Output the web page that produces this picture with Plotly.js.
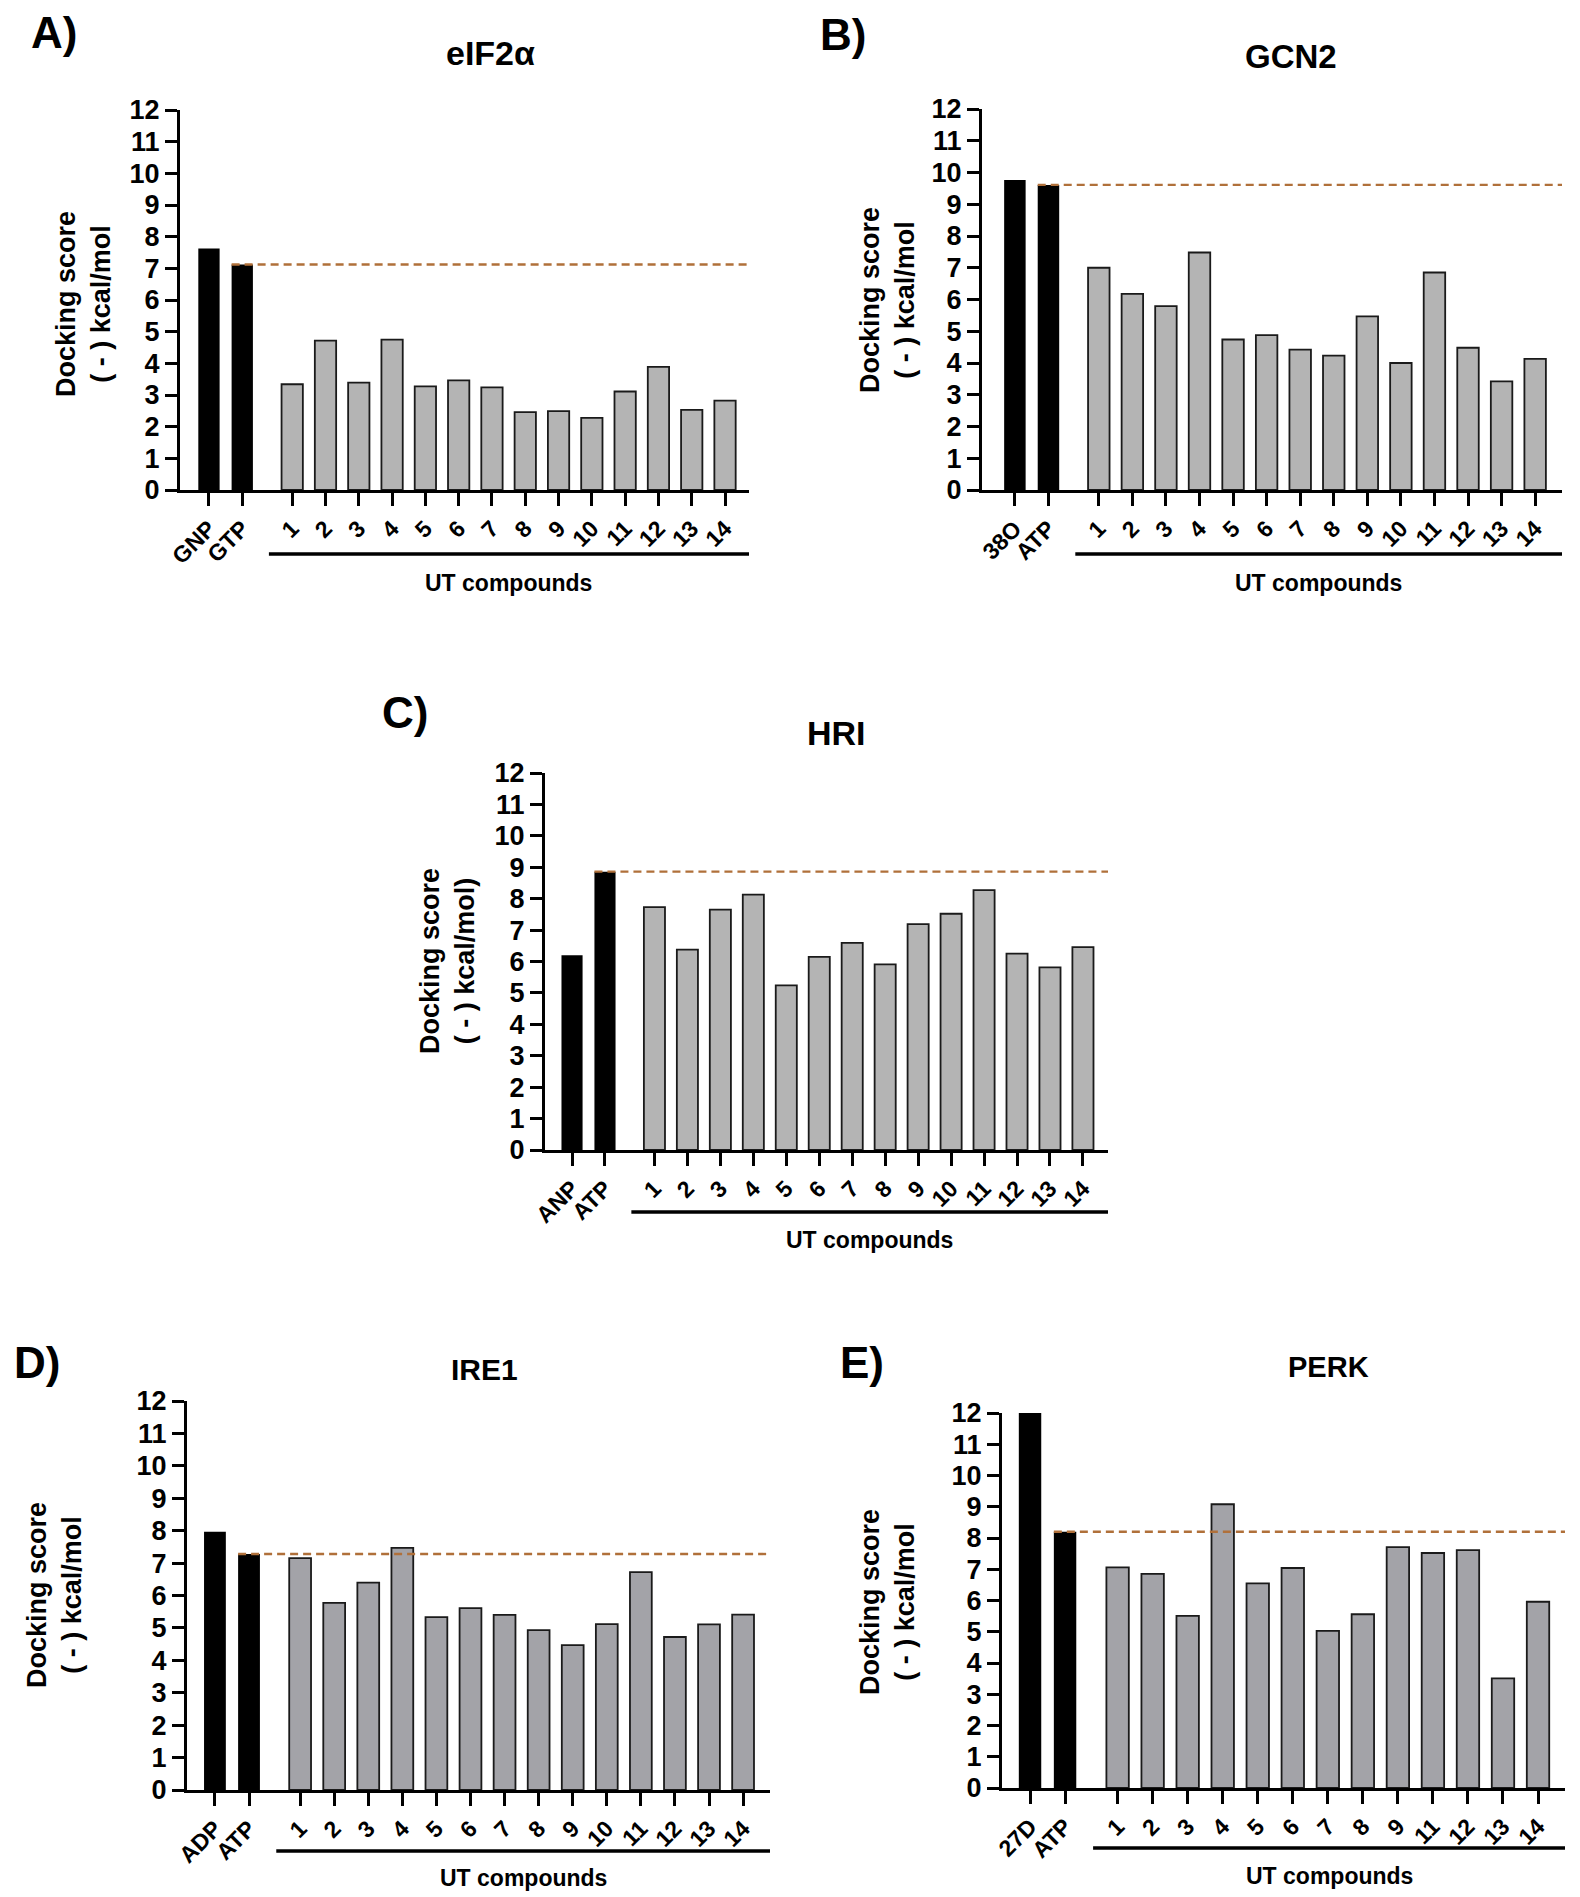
<!DOCTYPE html>
<html>
<head>
<meta charset="utf-8">
<script src="https://cdn.plot.ly/plotly-3.0.1.min.js"></script>
<style>body{margin:0;background:#fff}</style>
</head>
<body>
<div id="chart" style="width:1580px;height:1897px"></div>
<script>
// docking scores (-kcal/mol)

const utLabels = ['1','2','3','4','5','6','7','8','9','10','11','12','13','14'];
const utLabelsPerk = ['1','2','3','4','5','6','7','8','9','11','12','13','14'];

const eif2aRefLabels = ['GNP','GTP'];
const eif2aRefScores = [7.63, 7.12];
const eif2aUtScores = [3.34, 4.72, 3.39, 4.75, 3.27, 3.46, 3.24, 2.46, 2.49, 2.28, 3.11, 3.89, 2.53, 2.82];

const gcn2RefLabels = ['38O','ATP'];
const gcn2RefScores = [9.76, 9.61];
const gcn2UtScores = [7.00, 6.18, 5.79, 7.48, 4.74, 4.88, 4.42, 4.23, 5.47, 4.00, 6.85, 4.48, 3.42, 4.13];

const hriRefLabels = ['ANP','ATP'];
const hriRefScores = [6.20, 8.86];
const hriUtScores = [7.73, 6.38, 7.65, 8.13, 5.24, 6.15, 6.59, 5.91, 7.19, 7.52, 8.27, 6.25, 5.81, 6.46];

const ire1RefLabels = ['ADP','ATP'];
const ire1RefScores = [7.97, 7.28];
const ire1UtScores = [7.15, 5.77, 6.40, 7.47, 5.33, 5.61, 5.40, 4.93, 4.47, 5.12, 6.72, 4.72, 5.11, 5.41];

const perkRefLabels = ['27D','ATP'];
const perkRefScores = [12.0, 8.20];
const perkUtScores = [7.06, 6.85, 5.51, 9.08, 6.55, 7.04, 5.03, 5.56, 7.71, 7.52, 7.61, 3.51, 5.96];

const W = 1580, H = 1897;
const FONT = 'Liberation Sans, Arial, Helvetica, sans-serif';
const BAR_W = 0.64;
const GAP = 1.5;   // space between the 2nd reference bar and compound 1

// positions in px of each panel (plot box, titles, labels)
let panels = [
  {letter:'A)', title:'eIF2\u03b1', refLabels:eif2aRefLabels, ref:eif2aRefScores, utLabels:utLabels, ut:eif2aUtScores,
   box:[180,749,110,490], xr:[-0.87,16.22], gray:'#b4b4b4', letterPos:[54,33], titlePos:[490,53], titleSize:34,
   ytitlePos:[83,304], ytitle:'Docking score<br>( - ) kcal/mol', lineY:554, utY:583},
  {letter:'B)', title:'GCN2', refLabels:gcn2RefLabels, ref:gcn2RefScores, utLabels:utLabels, ut:gcn2UtScores,
   box:[982,1562,109,490], xr:[-0.98,16.30], gray:'#b4b4b4', letterPos:[843,35], titlePos:[1291,56], titleSize:33,
   ytitlePos:[887,300], ytitle:'Docking score<br>( - ) kcal/mol', lineY:554, utY:583},
  {letter:'C)', title:'HRI', refLabels:hriRefLabels, ref:hriRefScores, utLabels:utLabels, ut:hriUtScores,
   box:[545,1108,773,1150], xr:[-0.82,16.26], gray:'#b4b4b4', letterPos:[405,712], titlePos:[836,733], titleSize:34,
   ytitlePos:[447,961], ytitle:'Docking score<br>( - ) kcal/mol)', lineY:1212, utY:1240},
  {letter:'D)', title:'IRE1', refLabels:ire1RefLabels, ref:ire1RefScores, utLabels:utLabels, ut:ire1UtScores,
   box:[187,770,1401,1790], xr:[-0.82,16.29], gray:'#a3a3a8', letterPos:[37,1362], titlePos:[484,1369], titleSize:30,
   ytitlePos:[54,1595], ytitle:'Docking score<br>( - ) kcal/mol', lineY:1851, utY:1878},
  {letter:'E)', title:'PERK', refLabels:perkRefLabels, ref:perkRefScores, utLabels:utLabelsPerk, ut:perkUtScores,
   box:[1002,1565,1413,1788], xr:[-0.80,15.27], gray:'#a3a3a8', letterPos:[862,1362], titlePos:[1328,1367], titleSize:29,
   ytitlePos:[887,1602], ytitle:'Docking score<br>( - ) kcal/mol', lineY:1848, utY:1876}
];

function px(x){ return x / W; }
function py(y){ return 1 - y / H; }

let data = [];
let layout = {
  width: W, height: H,
  margin: {l:0, r:0, t:0, b:0},
  paper_bgcolor: '#fff', plot_bgcolor: 'rgba(0,0,0,0)',
  showlegend: false,
  barmode: 'overlay',
  font: {family: FONT, color: '#000'},
  annotations: [],
  shapes: []
};

function bold(size){ return {family: FONT, size: size, color: '#000', weight: 'bold'}; }

panels.forEach(function(p, i){
  let n = i + 1;
  let xa = n == 1 ? 'x' : 'x' + n;
  let ya = n == 1 ? 'y' : 'y' + n;

  let refX = p.ref.map(function(v, k){ return k; });
  let utX = p.ut.map(function(v, k){ return 1 + GAP + k; });

  data.push({
    type:'bar', x:refX, y:p.ref, width:BAR_W, xaxis:xa, yaxis:ya,
    marker:{color:'#000', line:{width:0}}, hoverinfo:'skip'
  });
  data.push({
    type:'bar', x:utX, y:p.ut, width:BAR_W, xaxis:xa, yaxis:ya,
    marker:{color:p.gray, line:{color:'#1a1a1a', width:1.8}}, hoverinfo:'skip'
  });
  // dashed reference level = score of the natural ligand (2nd bar)
  let refLevel = p.ref[1];
  data.push({
    type:'scatter', mode:'lines', xaxis:xa, yaxis:ya,
    x:[1 - BAR_W/2, p.xr[1]], y:[refLevel, refLevel],
    line:{color:'#b0703a', width:2.4, dash:'8px,5px'}, hoverinfo:'skip'
  });

  layout[n == 1 ? 'xaxis' : 'xaxis' + n] = {
    domain:[px(p.box[0]), px(p.box[1])], anchor:ya, range:p.xr,
    showline:true, linewidth:3, linecolor:'#000', mirror:false,
    ticks:'outside', ticklen:13, tickwidth:3, tickcolor:'#000',
    tickvals: refX.concat(utX), ticktext: p.refLabels.concat(p.utLabels),
    tickangle:-45, tickfont:bold(23),
    showgrid:false, zeroline:false, fixedrange:true
  };
  layout[n == 1 ? 'yaxis' : 'yaxis' + n] = {
    domain:[py(p.box[3]), py(p.box[2])], anchor:xa, range:[0,12],
    tick0:0, dtick:1,
    showline:true, linewidth:3, linecolor:'#000',
    ticks:'outside', ticklen:12, tickwidth:3, tickcolor:'#000',
    tickfont:bold(27),
    showgrid:false, zeroline:false, fixedrange:true
  };

  let lineStart = 1 + GAP - 0.7;
  layout.shapes.push({
    type:'line', xref:xa, yref:'paper',
    x0:lineStart, x1:p.xr[1], y0:py(p.lineY), y1:py(p.lineY),
    line:{color:'#000', width:3.5}
  });

  layout.annotations.push(
    {text:p.letter, xref:'paper', yref:'paper', x:px(p.letterPos[0]), y:py(p.letterPos[1]),
     xanchor:'center', yanchor:'middle', showarrow:false, font:bold(44)},
    {text:p.title, xref:'paper', yref:'paper', x:px(p.titlePos[0]), y:py(p.titlePos[1]),
     xanchor:'center', yanchor:'middle', showarrow:false, font:bold(p.titleSize)},
    {text:p.ytitle, xref:'paper', yref:'paper', x:px(p.ytitlePos[0]), y:py(p.ytitlePos[1]),
     xanchor:'center', yanchor:'middle', textangle:-90, showarrow:false, font:bold(27)},
    {text:'UT compounds', xref:xa, yref:'paper', x:(lineStart + p.xr[1]) / 2, y:py(p.utY),
     xanchor:'center', yanchor:'middle', showarrow:false, font:bold(23)}
  );
});

Plotly.newPlot('chart', data, layout, {staticPlot:true, displaylogo:false});
</script>
</body>
</html>
